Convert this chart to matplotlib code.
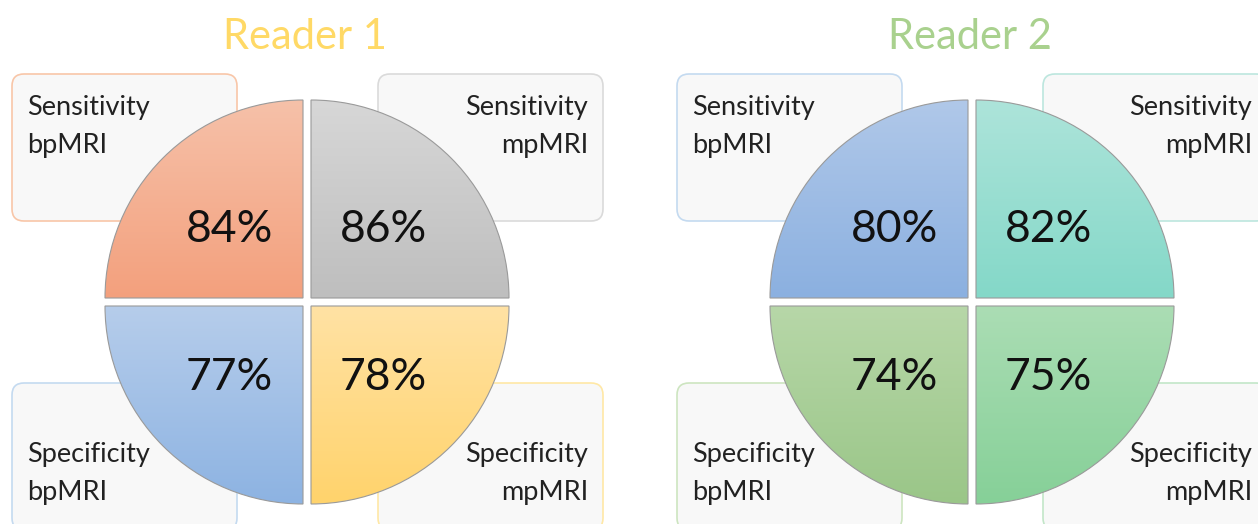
import numpy as np
import matplotlib
matplotlib.use("Agg")
import matplotlib.pyplot as plt
from matplotlib.patches import Wedge, FancyBboxPatch
from matplotlib.colors import to_rgb

W, H = 1258, 524

readers = ["Reader 1", "Reader 2"]
title_colors = ["#FFD966", "#A9D18E"]

# quadrant order: top-left, top-right, bottom-left, bottom-right
metric_names = ["Sensitivity", "Sensitivity", "Specificity", "Specificity"]
modalities = ["bpMRI", "mpMRI", "bpMRI", "mpMRI"]

reader1_values = [84, 86, 77, 78]
reader2_values = [80, 82, 74, 75]

reader1_top = ["#F6C1A9", "#D7D7D7", "#B6CDEB", "#FFE2A4"]
reader1_bottom = ["#F3A07D", "#BEBEBE", "#8DB3E2", "#FFD36C"]
reader2_top = ["#B0C8E9", "#ADE4DA", "#B7D7A8", "#ABDDB4"]
reader2_bottom = ["#8BB0E0", "#84D8C8", "#9AC688", "#86D098"]

reader1_borders = ["#F8C6A8", "#DADADA", "#C4DAF0", "#FFE8A6"]
reader2_borders = ["#C4DAF0", "#BCE6DE", "#CDE5C0", "#C2E6C8"]

FONT = ["Lato", "DejaVu Sans"]

fig = plt.figure(figsize=(W / 100, H / 100), dpi=100)
ax = fig.add_axes([0, 0, 1, 1])

centers = [(307, 302), (972, 302)]
radius = 198
gap = 8
box_w, box_h = 225, 147


def gradient_quadrant(ax, cx, cy, theta1, theta2, top, bottom):
    wedge = Wedge((cx, cy), radius, theta1, theta2, transform=ax.transData,
                  facecolor="none", edgecolor="none")
    ax.add_patch(wedge)
    t = np.linspace(0, 1, 200)[:, None, None]
    c0 = np.array(to_rgb(top))[None, None, :]
    c1 = np.array(to_rgb(bottom))[None, None, :]
    img = c0 * (1 - t) + c1 * t
    x0, x1 = cx - radius, cx + radius
    if theta1 >= 180:  # top half (y axis inverted)
        y0, y1 = cy - radius, cy
    else:
        y0, y1 = cy, cy + radius
    if theta1 in (90, 180):
        x0, x1 = cx - radius, cx
    else:
        x0, x1 = cx, cx + radius
    im = ax.imshow(img, extent=[x0, x1, y1, y0], origin="upper",
                   aspect="auto", zorder=2, interpolation="bilinear")
    im.set_clip_path(wedge)
    ax.add_patch(Wedge((cx, cy), radius, theta1, theta2, facecolor="none",
                       edgecolor="#9A9A9A", linewidth=0.8, zorder=3))


all_values = [reader1_values, reader2_values]
all_top = [reader1_top, reader2_top]
all_bottom = [reader1_bottom, reader2_bottom]
all_borders = [reader1_borders, reader2_borders]

for k, (cx, cy) in enumerate(centers):
    ax.text(cx - 2, 37, readers[k], color=title_colors[k], fontsize=30,
            family=FONT, ha="center", va="center")

    box_xy = [(cx - 295, 74), (cx + 71, 74), (cx - 295, 383), (cx + 71, 383)]
    for q in range(4):
        bx, by = box_xy[q]
        ax.add_patch(FancyBboxPatch((bx, by), box_w, box_h,
                                    boxstyle="round,pad=0,rounding_size=12",
                                    facecolor="#F8F8F8",
                                    edgecolor=all_borders[k][q],
                                    linewidth=1.2, zorder=1))
        left = q in (0, 2)
        tx = bx + 15 if left else bx + box_w - 15
        if k == 1 and not left:
            tx = W - 6
        ha = "left" if left else "right"
        base = 115 if q < 2 else 462
        ax.text(tx, base, metric_names[q], fontsize=19.5, family=FONT,
                color="#222222", ha=ha, va="baseline", zorder=4)
        ax.text(tx, base + 38, modalities[q], fontsize=19.5, family=FONT,
                color="#222222", ha=ha, va="baseline", zorder=4)

    # quadrants: screen top-left, top-right, bottom-left, bottom-right
    offs = [(-1, -1, 180, 270), (1, -1, 270, 360), (-1, 1, 90, 180), (1, 1, 0, 90)]
    for q, (sx, sy, t1, t2) in enumerate(offs):
        qx = cx + sx * gap / 2
        qy = cy + sy * gap / 2
        gradient_quadrant(ax, qx, qy, t1, t2, all_top[k][q], all_bottom[k][q])
        label = f"{all_values[k][q]}%"
        ly = 242 if sy < 0 else 390
        if sx < 0:
            ax.text(cx - 34, ly, label, fontsize=32, family=FONT, color="#111111",
                    ha="right", va="baseline", zorder=5)
        else:
            ax.text(cx + 33, ly, label, fontsize=32, family=FONT, color="#111111",
                    ha="left", va="baseline", zorder=5)

ax.set_xlim(0, W)
ax.set_ylim(H, 0)
ax.axis("off")

fig.savefig("out.png", dpi=100, facecolor="white")
